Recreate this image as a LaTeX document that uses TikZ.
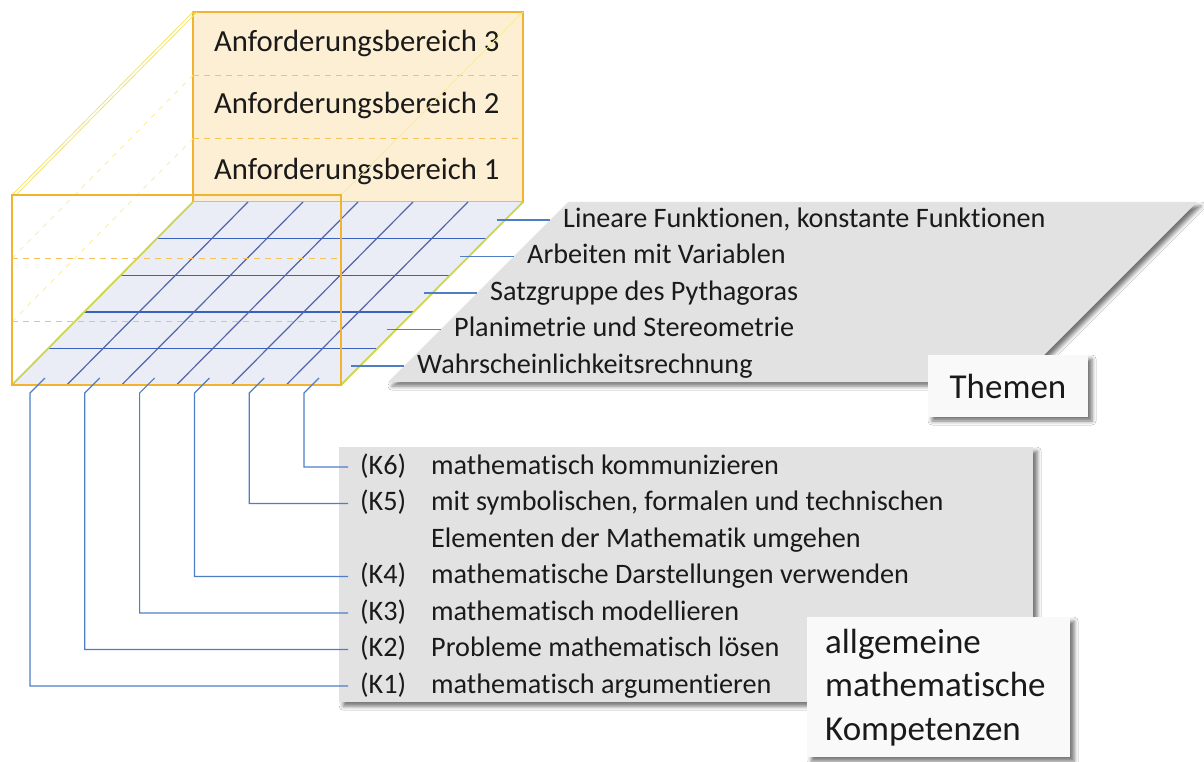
\documentclass[tikz,border=0pt]{standalone}
\usepackage{fontspec}
\setmainfont{Carlito}[Ligatures=NoCommon]
\usetikzlibrary{calc,shadows.blur}
\definecolor{oline}{HTML}{F2B430}
\definecolor{peach}{HTML}{FDEFD3}
\definecolor{floorfill}{HTML}{EAEDF5}
\definecolor{flooredge}{HTML}{CDD54A}
\definecolor{gridblue}{HTML}{3860BE}
\definecolor{diagblue}{HTML}{5564A8}
\definecolor{connblue}{HTML}{4F7EC4}
\definecolor{txt}{HTML}{1A1A1A}
\definecolor{boxgray}{HTML}{E2E2E2}
\definecolor{lightbox}{HTML}{F9F9F9}
\definecolor{faintyellow}{HTML}{F3E46A}
\begin{document}
\begin{tikzpicture}[x=1pt,y=-1pt,
  lab/.style={anchor=west,inner xsep=13pt,inner ysep=0pt,text height=20pt,text depth=6pt,font=\fontsize{28.2}{34}\selectfont,text=txt},
  klab/.style={anchor=west,inner xsep=12pt,inner ysep=0pt,text height=20pt,text depth=6pt,font=\fontsize{28.2}{34}\selectfont,text=txt},
  ktext/.style={anchor=west,inner sep=0pt,text height=20pt,text depth=6pt,font=\fontsize{28.2}{34}\selectfont,text=txt},
  anf/.style={anchor=west,inner sep=0pt,text height=21pt,text depth=7pt,font=\fontsize{30.7}{36}\selectfont,text=txt},
  conn/.style={draw=connblue,line width=1.2pt},
  gridh/.style={draw=gridblue,line width=1.4pt},
  gridd/.style={draw=diagblue,line width=1.2pt},
  shad/.style={blur shadow={shadow xshift=4pt,shadow yshift=-4pt,shadow blur radius=4pt,shadow opacity=55}},
  bigtext/.style={font=\fontsize{35}{43.5}\selectfont,text=txt}
]
\useasboundingbox (0,0) rectangle (1204,762);
\fill[white] (0,0) rectangle (1204,762);

% cube corners
\coordinate (F1) at (12,385);
\coordinate (F2) at (341,385);
\coordinate (B2) at (523,202);
\coordinate (B1) at (193,202);
\coordinate (FT1) at (12,195);
\coordinate (FT2) at (341,195);
\coordinate (BT1) at (193,12);
\coordinate (BT2) at (523,12);

% Themen background shape
\path[fill=boxgray,shad] (388,382) -- (568,202) -- (1197,202) -- (1017,382) -- cycle;
\node[fill=lightbox,shad,minimum width=160pt,minimum height=62pt,inner sep=0pt,bigtext] (themen) at (1008,386) {Themen};

% Kompetenzen background boxes
\node[fill=boxgray,shad,anchor=north west,minimum width=694pt,minimum height=255pt,inner sep=0pt] (kbox) at (339,447) {};
\node[fill=lightbox,shad,anchor=north west,minimum width=263pt,minimum height=140pt,inner xsep=18pt,inner ysep=0pt,text width=227pt,align=left,bigtext] (akbox) at (807,617) {allgemeine\\mathematische\\Kompetenzen};

% back box (Anforderungsbereiche)
\path[fill=peach,draw=oline,line width=1.5pt] (B1) rectangle (BT2);
\draw[oline!80,line width=1pt,dash pattern=on 6pt off 5pt] ($(B1)!1/3!(BT1)$) -- ($(B2)!1/3!(BT2)$);
\draw[oline!80,line width=1pt,dash pattern=on 6pt off 5pt] ($(B1)!2/3!(BT1)$) -- ($(B2)!2/3!(BT2)$);
\node[anf] (a3) at (214,45) {Anforderungsbereich 3};
\node[anf] (a2) at (214,107) {Anforderungsbereich 2};
\node[anf] (a1) at (214,172) {Anforderungsbereich 1};

% faint depth lines
\draw[faintyellow,line width=0.8pt] (FT1) -- (BT1);
\draw[faintyellow,line width=0.8pt] ([xshift=4pt]FT1) -- ([xshift=4pt]BT1);
\draw[faintyellow!70,line width=0.7pt] (FT2) -- (BT2);
\draw[faintyellow!70,line width=0.7pt,dash pattern=on 5pt off 6pt] ($(F1)!1/3!(FT1)$) -- ($(B1)!1/3!(BT1)$);
\draw[faintyellow!70,line width=0.7pt,dash pattern=on 5pt off 6pt] ($(F1)!2/3!(FT1)$) -- ($(B1)!2/3!(BT1)$);

% floor
\path[fill=floorfill] (F1) -- (F2) -- (B2) -- (B1) -- cycle;
\foreach \k in {1,...,4}{
  \draw[gridh] ($(F1)!\k/5!(B1)$) -- ($(F2)!\k/5!(B2)$);
}
\foreach \k in {1,...,5}{
  \draw[gridd] ($(F1)!\k/6!(F2)$) -- ($(B1)!\k/6!(B2)$);
}
\draw[flooredge,line width=1.8pt] (F1) -- (B1);
\draw[flooredge,line width=1.8pt] (F2) -- (B2);

% front rectangle
\draw[oline,line width=1.5pt] (FT1) rectangle (F2);
\draw[oline!80,line width=1pt,dash pattern=on 6pt off 5pt] ($(F1)!1/3!(FT1)$) -- ($(F2)!1/3!(FT2)$);
\draw[oline!80,line width=1pt,dash pattern=on 6pt off 5pt] ($(F1)!2/3!(FT1)$) -- ($(F2)!2/3!(FT2)$);

% Themen labels
\node[lab] (th1) at (550,220) {Lineare Funktionen, konstante Funktionen};
\node[lab] (th2) at (514,256.5) {Arbeiten mit Variablen};
\node[lab] (th3) at (477,293) {Satzgruppe des Pythagoras};
\node[lab] (th4) at (441,329.5) {Planimetrie und Stereometrie};
\node[lab] (th5) at (404,366) {Wahrscheinlichkeitsrechnung};
\coordinate (s1) at (497,220);
\coordinate (s2) at (460,256.5);
\coordinate (s3) at (424,293);
\coordinate (s4) at (387,329.5);
\coordinate (s5) at (351,366);
\foreach \i in {1,...,5}{\draw[conn] (s\i) -- (th\i.west);}

% Kompetenzen labels
\node[klab] (k6) at (348,467) {(K6)};
\node[klab] (k5) at (348,503.5) {(K5)};
\node[klab] (k4) at (348,576.5) {(K4)};
\node[klab] (k3) at (348,613) {(K3)};
\node[klab] (k2) at (348,649.5) {(K2)};
\node[klab] (k1) at (348,686) {(K1)};
\node[ktext] (d6) at (431,467) {mathematisch kommunizieren};
\node[ktext] (d5) at (431,503.5) {mit symbolischen, formalen und technischen};
\node[ktext] (d5b) at (431,540) {Elementen der Mathematik umgehen};
\node[ktext] (d4) at (431,576.5) {mathematische Darstellungen verwenden};
\node[ktext] (d3) at (431,613) {mathematisch modellieren};
\node[ktext] (d2) at (431,649.5) {Probleme mathematisch lösen};
\node[ktext] (d1) at (431,686) {mathematisch argumentieren};

\foreach \i [evaluate=\i as \xv using {30+54.8*(\i-1)}] in {1,...,6}{
  \coordinate (t\i) at (\xv+15,378);
  \draw[conn] (t\i) -- ++(-15,15) |- (k\i.west);
}
\end{tikzpicture}
\end{document}
